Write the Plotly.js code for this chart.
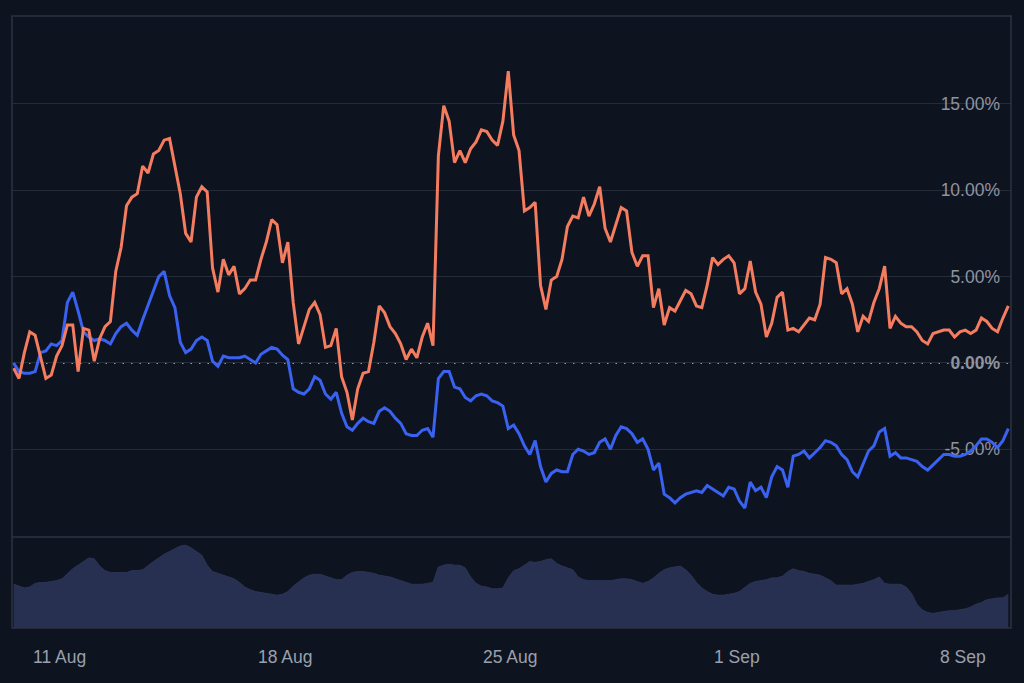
<!DOCTYPE html>
<html>
<head>
<meta charset="utf-8">
<script src="https://cdn.plot.ly/plotly-3.0.1.min.js"></script>
<style>
  html, body { margin: 0; padding: 0; background: #0e1320; }
  #chart { width: 1024px; height: 683px; }
</style>
</head>
<body>
<div id="chart"></div>
<script>
// ---- data (4-hour samples starting 9 Aug 2025 14:00) ----
const startTime = '2025-08-09T14:00:00Z';
const stepHours = 4;

const orangeSeries = [
  -0.3, -0.9, 0.6, 1.8, 1.6, 0.3, -0.9, -0.7, 0.4, 1.0,
  2.2, 2.2, -0.5, 2.0, 1.9, 0.1, 1.4, 2.1, 2.4, 5.3,
  6.7, 9.1, 9.6, 9.8, 11.4, 11.0, 12.1, 12.3, 12.9, 13.0,
  11.5, 9.8, 7.5, 7.0, 9.6, 10.2, 9.9, 5.5, 4.1, 6.0,
  5.1, 5.6, 4.0, 4.3, 4.8, 4.8, 6.0, 7.0, 8.3, 8.0,
  5.8, 7.0, 3.5, 1.1, 2.1, 3.1, 3.5, 2.8, 0.9, 1.0,
  2.0, -0.8, -1.7, -3.3, -1.5, -0.6, -0.5, 1.2, 3.3, 2.9,
  2.1, 1.7, 1.1, 0.2, 0.8, 0.3, 1.5, 2.3, 1.0, 12.0,
  14.9, 14.0, 11.6, 12.3, 11.6, 12.4, 12.8, 13.5, 13.4, 12.9,
  12.6, 14.0, 16.9, 13.2, 12.3, 8.8, 9.0, 9.3, 4.5, 3.1,
  4.8, 5.0, 6.0, 7.9, 8.5, 8.4, 9.6, 8.5, 9.2, 10.2,
  7.8, 7.0, 8.0, 9.0, 8.8, 6.4, 5.6, 6.2, 6.2, 3.2,
  4.3, 2.2, 3.2, 3.0, 3.6, 4.2, 4.0, 3.3, 3.2, 4.5,
  6.1, 5.7, 6.0, 6.2, 5.8, 4.0, 4.3, 5.9, 4.1, 3.4,
  1.5, 2.3, 3.8, 4.1, 1.9, 2.0, 1.8, 2.2, 2.6, 2.5,
  3.4, 6.1, 6.0, 5.8, 4.0, 4.3, 3.4, 1.8, 2.7, 2.4,
  3.5, 4.3, 5.6, 2.0, 2.7, 2.3, 2.1, 2.1, 1.8, 1.3,
  1.1, 1.7, 1.8, 1.9, 1.9, 1.5, 1.8, 1.9, 1.7, 1.9,
  2.6, 2.4, 2.0, 1.8, 2.6, 3.3
];

const blueSeries = [
  0.0, -0.5, -0.6, -0.6, -0.5, 0.6, 0.7, 1.1, 1.0, 1.3,
  3.5, 4.1, 3.0, 1.8, 1.5, 1.3, 1.4, 1.3, 1.1, 1.7,
  2.1, 2.3, 1.9, 1.6, 2.5, 3.3, 4.2, 5.0, 5.3, 3.9,
  3.2, 1.2, 0.6, 0.8, 1.3, 1.5, 1.3, 0.1, -0.2, 0.4,
  0.3, 0.3, 0.3, 0.4, 0.2, 0.0, 0.5, 0.7, 0.9, 0.8,
  0.45, 0.2, -1.5, -1.7, -1.8, -1.5, -0.8, -1.0, -1.8, -2.1,
  -1.7, -2.9, -3.7, -3.9, -3.5, -3.2, -3.4, -3.5, -2.8, -2.6,
  -2.8, -3.2, -3.5, -4.1, -4.2, -4.2, -3.9, -3.8, -4.3, -0.9,
  -0.5, -0.5, -1.4, -1.5, -2.0, -2.2, -1.9, -1.8, -1.9, -2.2,
  -2.3, -2.5, -3.8, -3.6, -4.1, -4.8, -5.3, -4.5, -6.0, -6.9,
  -6.4, -6.2, -6.3, -6.3, -5.3, -5.0, -5.1, -5.3, -5.2, -4.6,
  -4.4, -5.0, -4.2, -3.7, -3.8, -4.1, -4.6, -4.4, -5.0, -6.2,
  -5.8, -7.6, -7.8, -8.1, -7.8, -7.6, -7.5, -7.4, -7.5, -7.1,
  -7.3, -7.5, -7.7, -7.2, -7.3, -8.0, -8.4, -6.9, -7.4, -7.2,
  -7.8, -6.6, -6.0, -6.2, -7.2, -5.4, -5.3, -5.1, -5.5, -5.2,
  -4.9, -4.5, -4.6, -4.8, -5.3, -5.6, -6.3, -6.6, -5.8, -5.1,
  -4.8, -4.0, -3.8, -5.4, -5.2, -5.5, -5.5, -5.6, -5.7, -6.0,
  -6.2, -5.9, -5.6, -5.3, -5.3, -5.4, -5.4, -5.3, -5.1, -4.8,
  -4.4, -4.4, -4.6, -4.9, -4.5, -3.8
];

const volumeSeries = [
  48, 46, 44, 45, 49, 50, 50, 51, 52, 54,
  60, 65, 69, 73, 77, 76, 68, 63, 61, 61,
  61, 61, 63, 63, 64, 69, 73, 77, 81, 84,
  87, 90, 91, 88, 84, 80, 69, 62, 60, 58,
  56, 54, 50, 45, 42, 40, 39, 38, 37, 36,
  37, 40, 46, 51, 55, 58, 59, 59, 57, 55,
  53, 53, 58, 61, 62, 62, 61, 60, 58, 57,
  56, 54, 52, 50, 48, 48, 48, 49, 50, 67,
  69, 70, 69, 69, 66, 56, 49, 46, 45, 43,
  43, 44, 55, 63, 65, 69, 73, 72, 73, 75,
  76, 71, 68, 66, 64, 56, 53, 52, 52, 52,
  52, 52, 53, 54, 54, 53, 51, 49, 51, 55,
  60, 64, 66, 67, 68, 64, 58, 50, 44, 40,
  37, 36, 36, 37, 38, 40, 45, 49, 51, 52,
  53, 55, 55, 57, 62, 65, 63, 62, 60, 59,
  58, 55, 52, 47, 47, 47, 47, 48, 49, 51,
  53, 56, 49, 48, 48, 48, 45, 38, 26, 20,
  17, 16, 17, 18, 19, 19, 20, 21, 23, 26,
  28, 31, 32, 33, 33, 37
];

const tickDates = ['2025-08-11', '2025-08-18', '2025-08-25', '2025-09-01', '2025-09-08'];
const tickLabels = ['11 Aug', '18 Aug', '25 Aug', '1 Sep', '8 Sep'];
const yTickValues = [-5, 0, 5, 10, 15];
const yTickLabels = ['-5.00%', '<b>0.00%</b>', '5.00%', '10.00%', '15.00%'];

// ---- build time axis ----
function fmt(d) { return d.toISOString().slice(0, 19).replace('T', ' '); }
const t0 = new Date(startTime).getTime();
const times = orangeSeries.map((_, i) => fmt(new Date(t0 + i * stepHours * 3600 * 1000)));

const bg = '#0e1320';
const gridCol = '#262b38';
const splitFrac = 0.1487;
const labelFont = 'Liberation Sans, Arial, sans-serif';

const traces = [
  {
    x: times, y: volumeSeries, xaxis: 'x', yaxis: 'y2',
    type: 'scatter', mode: 'lines', fill: 'tozeroy',
    line: { color: '#2c3457', width: 1 }, fillcolor: '#283052',
    hoverinfo: 'skip'
  },
  {
    x: times, y: blueSeries, xaxis: 'x', yaxis: 'y',
    type: 'scatter', mode: 'lines',
    line: { color: '#3a62f0', width: 3 }
  },
  {
    x: times, y: orangeSeries, xaxis: 'x', yaxis: 'y',
    type: 'scatter', mode: 'lines',
    line: { color: '#f47c5f', width: 3 }
  }
];

// x-axis date labels as annotations (kept as real text), placed through the x scale
const xLabelAnnotations = tickDates.map((d, i) => ({
  x: d, xref: 'x', y: 0, yref: 'paper', yanchor: 'top', yshift: -17,
  text: tickLabels[i], showarrow: false,
  font: { family: labelFont, size: 17.5, color: '#9aa0ac' }
}));

const layout = {
  width: 1024, height: 683,
  paper_bgcolor: bg, plot_bgcolor: bg,
  margin: { l: 12, r: 13, t: 16, b: 55 },
  showlegend: false,
  font: { family: labelFont, color: '#9aa0ac' },
  xaxis: {
    type: 'date',
    anchor: 'y2',
    range: ['2025-08-09 12:48', '2025-09-09 12:00'],
    showticklabels: false,
    showgrid: false, zeroline: false, showline: false, ticks: ''
  },
  yaxis: {
    domain: [splitFrac, 1],
    range: [-10.08, 20.09],
    side: 'right',
    ticklabelposition: 'inside',
    tickvals: yTickValues, ticktext: yTickLabels,
    showgrid: true, gridcolor: gridCol, gridwidth: 1,
    zeroline: false, showline: false, ticks: '',
    layer: 'below traces',
    tickfont: { size: 17.5, color: '#8e94a0' },
    ticklabelstandoff: 8
  },
  yaxis2: {
    domain: [0, splitFrac],
    range: [0, 100],
    showgrid: false, zeroline: false, showticklabels: false, showline: false
  },
  annotations: xLabelAnnotations,
  shapes: [
    { type: 'line', xref: 'paper', yref: 'y', x0: 0, x1: 1, y0: 0, y1: 0,
      line: { color: '#c9cdd5', width: 1.5, dash: '1.5px,7px' }, layer: 'below' },
    { type: 'line', xref: 'paper', yref: 'paper', x0: 0, x1: 1, y0: splitFrac, y1: splitFrac,
      line: { color: '#2e3340', width: 1.5 }, layer: 'below' },
    { type: 'rect', xref: 'paper', yref: 'paper', x0: 0, x1: 1, y0: 0, y1: 1,
      line: { color: '#2e3340', width: 1.5 }, layer: 'above' }
  ]
};

Plotly.newPlot('chart', traces, layout, { displayModeBar: false, staticPlot: true });
</script>
</body>
</html>
